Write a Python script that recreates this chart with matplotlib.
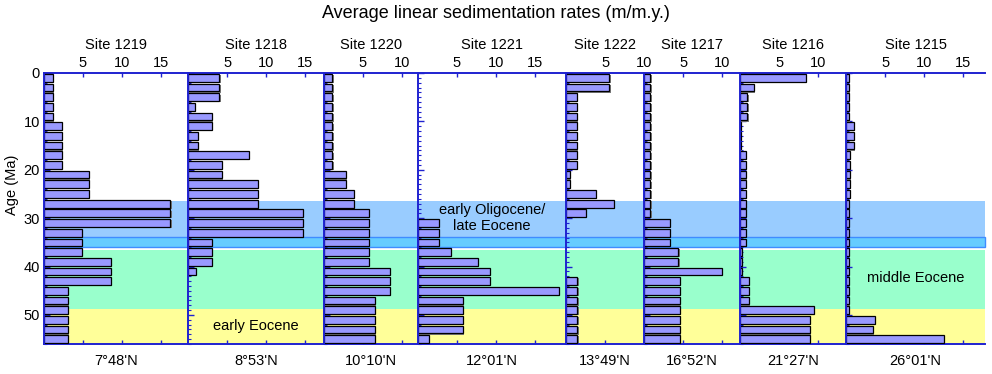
import numpy as np
import matplotlib.pyplot as plt
import matplotlib.transforms as mtransforms
from matplotlib.patches import Rectangle

plt.rcParams['font.family'] = ['Liberation Sans', 'DejaVu Sans']
plt.rcParams['font.size'] = 10.5

sites = ['Site 1219', 'Site 1218', 'Site 1220', 'Site 1221',
         'Site 1222', 'Site 1217', 'Site 1216', 'Site 1215']
latitudes = ["7°48'N", "8°53'N", "10°10'N", "12°01'N",
             "13°49'N", "16°52'N", "21°27'N", "26°01'N"]
# full x range of each panel (m/m.y.)
rate_max = [18.5, 17.4, 12.05, 19.0, 10.0, 12.3, 13.6, 17.8]

# top of each 2 m.y. age bin (Ma)
age_top = [0, 2, 4, 6, 8, 10, 12, 14, 16, 18, 20, 22, 24, 26,
           28, 30, 32, 34, 36, 38, 40, 42, 44, 46, 48, 50, 52, 54]

rates_1219 = [1.1, 1.1, 1.1, 1.1, 1.1, 2.35, 2.35, 2.35, 2.35, 2.35, 5.8, 5.8, 5.8, 16.2,
              16.2, 16.2, 4.9, 4.9, 4.9, 8.6, 8.6, 8.6, 3.1, 3.1, 3.1, 3.1, 3.1, 3.1]
rates_1218 = [4.0, 4.0, 4.0, 0.8, 3.0, 3.0, 1.25, 1.25, 7.8, 4.3, 4.3, 8.9, 8.9, 8.9,
              14.7, 14.7, 14.7, 3.0, 3.0, 3.0, 0.95, 0, 0, 0, 0, 0, 0, 0]
rates_1220 = [1.07, 1.07, 1.07, 1.07, 1.07, 1.07, 1.07, 1.07, 1.07, 1.07, 2.8, 2.8, 3.8, 3.8,
              5.8, 5.8, 5.8, 5.8, 5.8, 5.8, 8.4, 8.4, 8.4, 6.5, 6.5, 6.5, 6.5, 6.5]
rates_1221 = [0, 0, 0, 0, 0, 0, 0, 0, 0, 0, 0, 0, 0, 0,
              0, 2.7, 2.7, 2.7, 4.2, 7.7, 9.2, 9.2, 18.1, 5.8, 5.8, 5.8, 5.8, 1.4]
rates_1222 = [5.55, 5.55, 1.37, 1.37, 1.37, 1.37, 1.37, 1.37, 1.37, 1.37, 0.5, 0.5, 3.8, 6.1,
              2.56, 0, 0, 0, 0, 0, 0, 1.45, 1.45, 1.45, 1.45, 1.45, 1.45, 1.45]
rates_1217 = [0.8, 0.8, 0.8, 0.8, 0.8, 0.8, 0.8, 0.8, 0.8, 0.8, 0.8, 0.8, 0.8, 0.8,
              0.8, 3.3, 3.3, 3.3, 4.4, 4.4, 10.0, 4.6, 4.6, 4.6, 4.6, 4.6, 4.6, 4.6]
rates_1216 = [8.46, 1.8, 0.94, 0.94, 0.94, 0.15, 0.15, 0.15, 0.75, 0.75, 0.75, 0.75, 0.75, 0.75,
              0.75, 0.75, 0.75, 0.75, 0.2, 0.2, 0.2, 1.15, 1.15, 1.15, 9.5, 8.97, 8.97, 8.97]
rates_1215 = [0.3, 0.3, 0.3, 0.3, 0.3, 0.95, 0.95, 0.95, 0.5, 0.5, 0.5, 0.5, 0.5, 0.4,
              0.4, 0.4, 0.4, 0.4, 0.4, 0.4, 0.4, 0.4, 0.4, 0.4, 0.4, 3.7, 3.4, 12.5]
all_rates = [rates_1219, rates_1218, rates_1220, rates_1221,
             rates_1222, rates_1217, rates_1216, rates_1215]

# age intervals (Ma) of the coloured background bands
band_top = [26.4, 33.8, 36.6, 48.75]
band_bottom = [33.8, 35.95, 48.75, 56]
band_color = ['#99ccff', '#66ccff', '#99ffcc', '#ffff99']
band_edge = ['none', '#3f8cff', 'none', 'none']

BLUE = '#1f22d0'
W, H = 992, 374
left_px, right_px, top_px, bottom_px = 44, 985, 73, 344
scale = (right_px - left_px) / sum(rate_max)

fig = plt.figure(figsize=(W / 100, H / 100), dpi=100)

axes = []
x = left_px
for site, lat, xm, rates in zip(sites, latitudes, rate_max, all_rates):
    w = xm * scale
    ax = fig.add_axes([x / W, 1 - bottom_px / H, w / W, (bottom_px - top_px) / H])
    ax.set_facecolor('none')
    x += w

    ages = np.array(age_top, dtype=float)
    vals = np.array(rates, dtype=float)
    nz = vals > 0
    # drop shadow, then the bar itself
    ax.barh(ages[nz] + 1.25, vals[nz] + 0.15, height=1.6, color='#7a7a7a',
            edgecolor='none', zorder=2)
    ax.barh(ages[nz] + 1.0, vals[nz], height=1.6, color='#9999ff',
            edgecolor='black', linewidth=0.9, zorder=3)

    ax.set_xlim(0, xm)
    ax.set_ylim(56, 0)
    ax.set_xticks([t for t in (5, 10, 15) if t <= xm])
    ax.xaxis.tick_top()
    ax.tick_params(axis='x', which='both', direction='in', length=3, width=1,
                   color=BLUE, top=True, bottom=True, labeltop=True,
                   labelbottom=False, pad=2, labelsize=10.5)
    ax.set_yticks([0, 10, 20, 30, 40, 50])
    ax.set_yticks(np.arange(0, 57, 1), minor=True)
    ax.tick_params(axis='y', which='major', direction='in', length=4, width=1, color=BLUE)
    ax.tick_params(axis='y', which='minor', direction='in', length=2.5, width=0.8, color=BLUE)
    if axes:
        ax.tick_params(axis='y', labelleft=False)
    else:
        ax.tick_params(axis='y', labelsize=10.5, pad=3)

    for side in ('left', 'top', 'bottom'):
        ax.spines[side].set_color(BLUE)
        ax.spines[side].set_linewidth(1.4)
    ax.spines['left'].set_zorder(5)
    ax.spines['right'].set_visible(False)

    ax.text(0.5, 1.103, site, transform=ax.transAxes, ha='center', va='center',
            fontsize=10.5)
    ax.text(0.5, -0.062, lat, transform=ax.transAxes, ha='center', va='center',
            fontsize=10.5)
    axes.append(ax)

# background age bands across all panels
x0 = axes[0].get_position().x0
x1 = axes[-1].get_position().x1
tr = mtransforms.blended_transform_factory(fig.transFigure, axes[0].transData)
for top, bot, col, ec in zip(band_top, band_bottom, band_color, band_edge):
    rect = Rectangle((x0, top), x1 - x0, bot - top, transform=tr,
                     facecolor=col, edgecolor=ec, linewidth=1.0, zorder=-1)
    fig.add_artist(rect)

def band_label(ax, age, text):
    t = mtransforms.blended_transform_factory(ax.transAxes, ax.transData)
    ax.text(0.5, age, text, transform=t, ha='center', va='center',
            linespacing=1.2, fontsize=10.5, zorder=6)

band_label(axes[3], 29.95, 'early Oligocene/\nlate Eocene')
band_label(axes[7], 42.3, 'middle Eocene')
band_label(axes[1], 52.3, 'early Eocene')

fig.text(496 / W, 1 - 14 / H, 'Average linear sedimentation rates (m/m.y.)',
         ha='center', va='center', fontsize=13)
fig.text(12 / W, 1 - 185 / H, 'Age (Ma)', rotation=90, ha='center', va='center',
         fontsize=10.5)

fig.savefig('out.png', dpi=100)
